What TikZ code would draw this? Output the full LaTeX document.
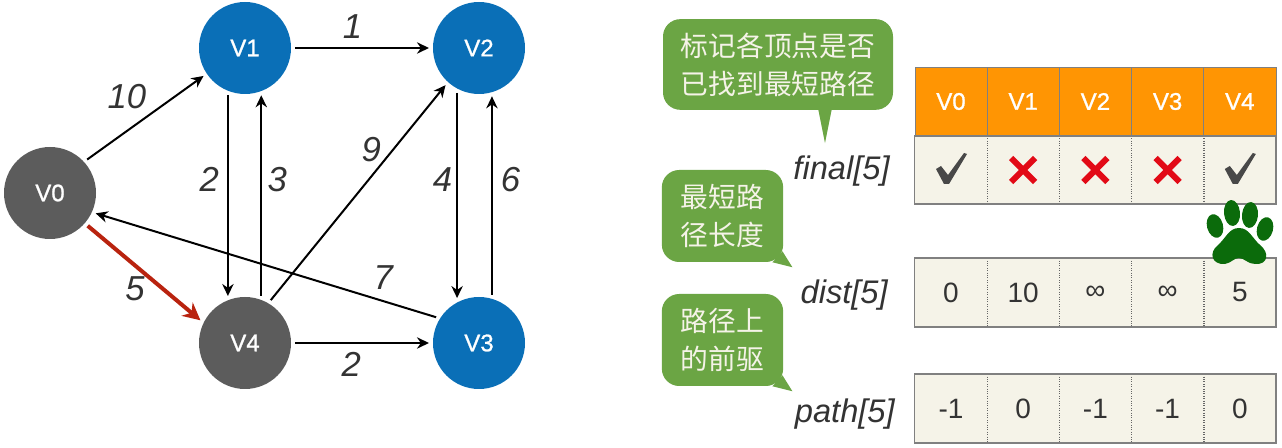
\documentclass[tikz,border=0pt]{standalone}
\usepackage{fontspec}
\setmainfont{Liberation Sans}
\newfontfamily\cjk{Noto Sans CJK SC}
\newfontfamily\vexfont[FakeBold=1]{Liberation Sans}
\usetikzlibrary{arrows.meta, positioning, calc}
\definecolor{VexBlue}{HTML}{0A6FB7}
\definecolor{VexGray}{HTML}{5C5C5C}
\definecolor{PathRed}{HTML}{B9230F}
\definecolor{HeadOrange}{HTML}{FF9503}
\definecolor{CellBg}{HTML}{F5F3E8}
\definecolor{BubbleGreen}{HTML}{6BA544}
\definecolor{CrossRed}{HTML}{E20A16}
\definecolor{PawGreen}{HTML}{0B6B0B}
\definecolor{Charcoal}{HTML}{333333}
\definecolor{TickGray}{HTML}{484848}
\tikzset{
  vex/.style={circle, minimum size=69pt, inner sep=0pt, outer sep=3pt, text=white, font=\fontsize{18}{20}\vexfont\selectfont},
  edge/.style={draw=black, line width=1.5pt, -{Stealth[length=9pt,width=8.5pt]}},
  redge/.style={draw=PathRed, line width=3pt, -{Stealth[length=13pt,width=13pt]}},
  weight/.style={text=Charcoal, inner sep=3pt, font=\fontsize{26}{30}\itshape\selectfont},
  arrname/.style={text=Charcoal, inner sep=0pt, font=\fontsize{24.5}{28}\itshape\selectfont},
  head/.style={draw=gray, fill=HeadOrange, text=white, minimum width=54.2pt, minimum height=51.5pt, inner sep=0pt, font=\fontsize{18}{20}\vexfont\selectfont},
  cell/.style={fill=CellBg, text=Charcoal, minimum width=54.2pt, minimum height=51pt, inner sep=0pt, font=\fontsize{21}{24}\selectfont},
  bubble/.style={fill=BubbleGreen, rounded corners=13pt, text=CellBg, inner sep=0pt, align=center, font=\fontsize{20.8}{28.5}\cjk\selectfont},
  tick/.pic={\fill[TickGray, line join=round] (-15,-1) -- (-10,-4) -- (-3,5) -- (13,-17) -- (16,-16) -- (-2,14) -- (-7,14) -- cycle;},
  cross/.pic={\draw[CrossRed, line width=4.5pt] (-12,-12) -- (12,12) (-12,12) -- (12,-12);}
}
\begin{document}
\begin{tikzpicture}[x=0.75pt, y=-0.75pt]
    \useasboundingbox (0,0) rectangle (1282,448);
    % graph
    \node[vex, fill=VexGray] (V0) at (50,193) {V0};
    \node[vex, fill=VexBlue] (V1) at (245,48) {V1};
    \node[vex, fill=VexBlue] (V2) at (479,48) {V2};
    \node[vex, fill=VexBlue] (V3) at (479,343) {V3};
    \node[vex, fill=VexGray] (V4) at (245,343) {V4};
    \draw[edge] (V0.42) -- (V1.214) node[weight, pos=0.55, above left] (w01) {10};
    \draw[edge] (V1.east) -- (V2.west) node[weight, pos=0.43, above, yshift=3pt] (w12) {1};
    \draw[edge] (V1.250) -- (V4.110) node[weight, pos=0.42, left, xshift=-3pt] (w14) {2};
    \draw[edge] (V4.71) -- (V1.289) node[weight, pos=0.58, right, xshift=1pt] (w41) {3};
    \draw[edge] (V2.244) -- (V3.116) node[weight, pos=0.42, left] (w23) {4};
    \draw[edge] (V3.75) -- (V2.285) node[weight, pos=0.58, right, xshift=3pt] (w32) {6};
    \draw[edge] (V4.59) -- (V2.228) node[weight, pos=0.62, above left, xshift=5pt] (w42) {9};
    \draw[edge] (V3.149) -- (V0.336) node[weight, pos=0.155, above, yshift=5pt] (w30) {7};
    \draw[edge] (V4.east) -- (V3.west) node[weight, pos=0.42, below, yshift=-3pt] (w43) {2};
    \draw[redge] (V0.319) -- (V4.153) node[weight, midway, below left, xshift=5pt, yshift=2pt] (w04) {5};
    % table header
    \foreach \name [count=\i from 0] in {V0,V1,V2,V3,V4}
        \node[head] (h\i) at ({951+72.2*\i},101.5) {\name};
    % table rows
    \foreach \name [count=\i from 0] in {f0,f1,f2,f3,f4}
        \node[cell] (\name) at ({951+72.2*\i},170) {};
    \foreach \val [count=\i from 0] in {0,10,∞,∞,5}
        \node[cell] (d\i) at ({951+72.2*\i},292.5) {\val};
    \foreach \val [count=\i from 0] in {-1,0,-1,-1,0}
        \node[cell] (p\i) at ({951+72.2*\i},408.5) {\val};
    \foreach \r in {f,d,p}{
        \foreach \i in {0,1,2,3}
            \draw[densely dotted, gray!80!black, line width=0.8pt] (\r\i.north east) -- (\r\i.south east);
        \draw[gray, line width=1.2pt] (\r0.north west) rectangle (\r4.south east);
    }
    \path (f0) pic {tick} (f1) pic {cross} (f2) pic {cross} (f3) pic {cross} (f4) pic {tick};
    % row names
    \node[arrname, anchor=east] (final) at (890,171) {final[5]};
    \node[arrname, anchor=east] (dist) at (888,295) {dist[5]};
    \node[arrname, anchor=east] (path) at (895,414) {path[5]};
    % speech bubbles
    \node[bubble, minimum width=172.5pt, minimum height=68pt] (bfinal) at (778,64.5) {标记各顶点是否\\已找到最短路径};
    \fill[BubbleGreen] ($(bfinal.south)+(40,-2)$) -- ($(bfinal.south)+(54,-2)$) -- ($(bfinal.south)+(47,33)$) -- cycle;
    \node[bubble, minimum width=91pt, minimum height=69pt] (bdist) at (722.5,216) {最短路\\径长度};
    \fill[BubbleGreen] ($(bdist.south east)+(-11,0)$) -- ($(bdist.south east)+(9,5)$) -- ($(bdist.south east)+(-1,-11)$) -- cycle;
    \node[bubble, minimum width=91pt, minimum height=69pt] (bpath) at (722.5,340) {路径上\\的前驱};
    \fill[BubbleGreen] ($(bpath.south east)+(-11,0)$) -- ($(bpath.south east)+(9,5)$) -- ($(bpath.south east)+(-1,-11)$) -- cycle;
    % paw print on V4
    \fill[PawGreen, rotate around={15:(1215,226)}] (1215,226) ellipse (8 and 12);
    \fill[PawGreen, rotate around={5:(1232,213)}] (1232,213) ellipse (8 and 13);
    \fill[PawGreen, rotate around={-5:(1250,215)}] (1250,215) ellipse (8 and 13);
    \fill[PawGreen, rotate around={-15:(1265,229)}] (1265,229) ellipse (8 and 12);
    \fill[PawGreen] (1239,228) .. controls (1229,228) and (1226,238) .. (1218,245)
        .. controls (1208,253) and (1212,265) .. (1225,264)
        .. controls (1231,263) and (1234,258) .. (1239,258)
        .. controls (1244,258) and (1248,264) .. (1255,264)
        .. controls (1268,265) and (1270,253) .. (1260,245)
        .. controls (1252,238) and (1249,228) .. (1239,228) -- cycle;
\end{tikzpicture}
\end{document}
